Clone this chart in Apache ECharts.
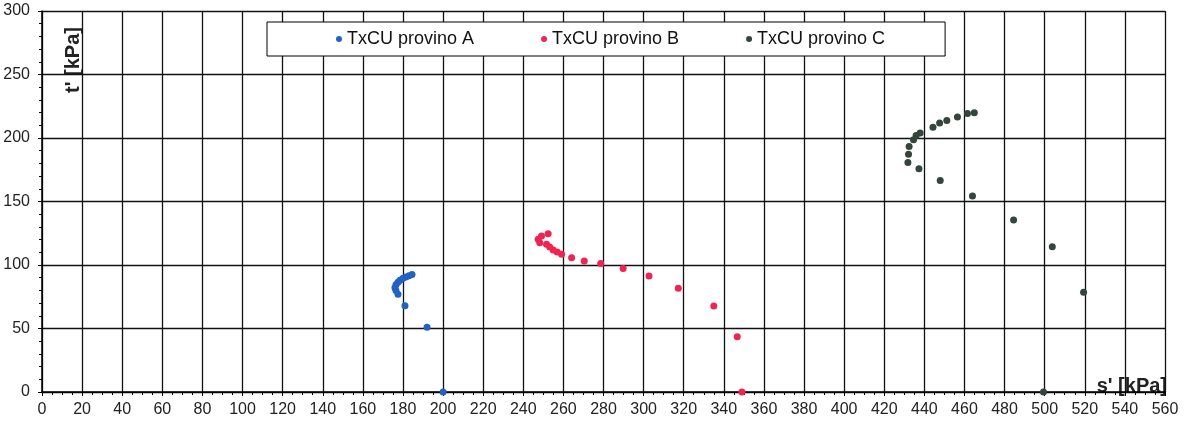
<!DOCTYPE html>
<html>
<head>
<meta charset="utf-8">
<script src="https://cdn.jsdelivr.net/npm/echarts@6/dist/echarts.min.js"></script>
<style>
html,body{margin:0;padding:0;background:#fff;}
#chart{width:1197px;height:425px;}
</style>
</head>
<body>
<div id="chart"></div>
<script>
// Tick labels
const xTicks = {min: 0, max: 560, interval: 20};
const yTicks = {min: 0, max: 300, interval: 50};
const seriesNames = ['TxCU provino A', 'TxCU provino B', 'TxCU provino C'];

// Provino A: s' [kPa], t' [kPa]
const sA = [200, 192, 181, 177.5, 176.5, 176, 176.5, 177.5, 178.5, 180, 181.5, 183, 184.5];
const tA = [0, 51, 68, 77, 80, 82, 84.5, 86.5, 88, 89.5, 90.5, 91.5, 92.5];

// Provino B
const sB = [349, 346.7, 335, 317.3, 302.7, 289.8, 278.6, 270.4, 264.1, 259.1, 256.9, 254.9, 253.2, 251.6, 248.2, 247.4, 249.1, 252.4];
const tB = [0, 43.6, 67.7, 81.7, 91.3, 97.2, 101.1, 103.1, 105.8, 108.4, 110.2, 111.8, 114.2, 116.3, 117.6, 120.2, 122.8, 124.7];

// Provino C
const sC = [499.4, 519.4, 503.8, 484.5, 464, 447.9, 437.3, 431.8, 432.1, 432.4, 434.6, 435.9, 437.9, 444.3, 447.6, 451.2, 456.5, 461.5, 464.9];
const tC = [0, 78.6, 114.3, 135.4, 154.4, 166.5, 175.8, 180.8, 187.3, 193.4, 198.7, 201.9, 204, 208.5, 211.9, 213.8, 216.6, 219.3, 219.8];

const colors = ['#2462c2', '#ee2452', '#34463c'];
const pairs = (s, t) => s.map((v, i) => [v, t[i]]);
const FONT = 'Liberation Sans, Arial, sans-serif';

const chart = echarts.init(document.getElementById('chart'));
chart.setOption({
  animation: false,
  backgroundColor: '#fff',
  grid: {left: 42, right: 32, top: 11, bottom: 33, containLabel: false},
  legend: {
    data: seriesNames,
    left: 267, top: 22,
    orient: 'horizontal',
    backgroundColor: '#fff',
    borderColor: '#000', borderWidth: 1, borderRadius: 0,
    padding: [8, 60, 8, 69],
    itemGap: 67,
    icon: 'circle', itemWidth: 6, itemHeight: 6,
    textStyle: {fontFamily: FONT, fontSize: 18, color: '#111'}
  },
  xAxis: {
    type: 'value', min: xTicks.min, max: xTicks.max, interval: xTicks.interval,
    axisLine: {show: true, onZero: false, lineStyle: {color: '#000', width: 1.5}},
    axisTick: {show: true, length: 4, lineStyle: {color: '#000'}},
    minorTick: {show: true, splitNumber: 4, length: 3, lineStyle: {color: '#000'}},
    splitLine: {show: true, lineStyle: {color: '#111', width: 1.3}},
    axisLabel: {fontFamily: FONT, fontSize: 16, color: '#222', margin: 10}
  },
  yAxis: {
    type: 'value', min: yTicks.min, max: yTicks.max, interval: yTicks.interval,
    axisLine: {show: true, onZero: false, lineStyle: {color: '#000', width: 1.5}},
    axisTick: {show: true, length: 4, lineStyle: {color: '#000'}},
    minorTick: {show: true, splitNumber: 5, length: 3, lineStyle: {color: '#000'}},
    splitLine: {show: true, lineStyle: {color: '#111', width: 1.3}},
    axisLabel: {fontFamily: FONT, fontSize: 16, color: '#222', margin: 12}
  },
  graphic: [
    {
      type: 'text', x: 73, y: 60, rotation: Math.PI / 2,
      style: {text: "t' [kPa]", fontFamily: FONT, fontWeight: 'bold', fontSize: 20, fill: '#222', align: 'center', verticalAlign: 'middle'}
    },
    {
      type: 'text', x: 1167, y: 386,
      style: {text: "s' [kPa]", fontFamily: FONT, fontWeight: 'bold', fontSize: 20, fill: '#222', align: 'right', verticalAlign: 'middle'}
    }
  ],
  series: [
    {name: seriesNames[0], type: 'scatter', data: pairs(sA, tA), symbolSize: 7, itemStyle: {color: colors[0], opacity: 1}},
    {name: seriesNames[1], type: 'scatter', data: pairs(sB, tB), symbolSize: 7, itemStyle: {color: colors[1], opacity: 1}},
    {name: seriesNames[2], type: 'scatter', data: pairs(sC, tC), symbolSize: 7, itemStyle: {color: colors[2], opacity: 1}}
  ]
});
</script>
</body>
</html>
